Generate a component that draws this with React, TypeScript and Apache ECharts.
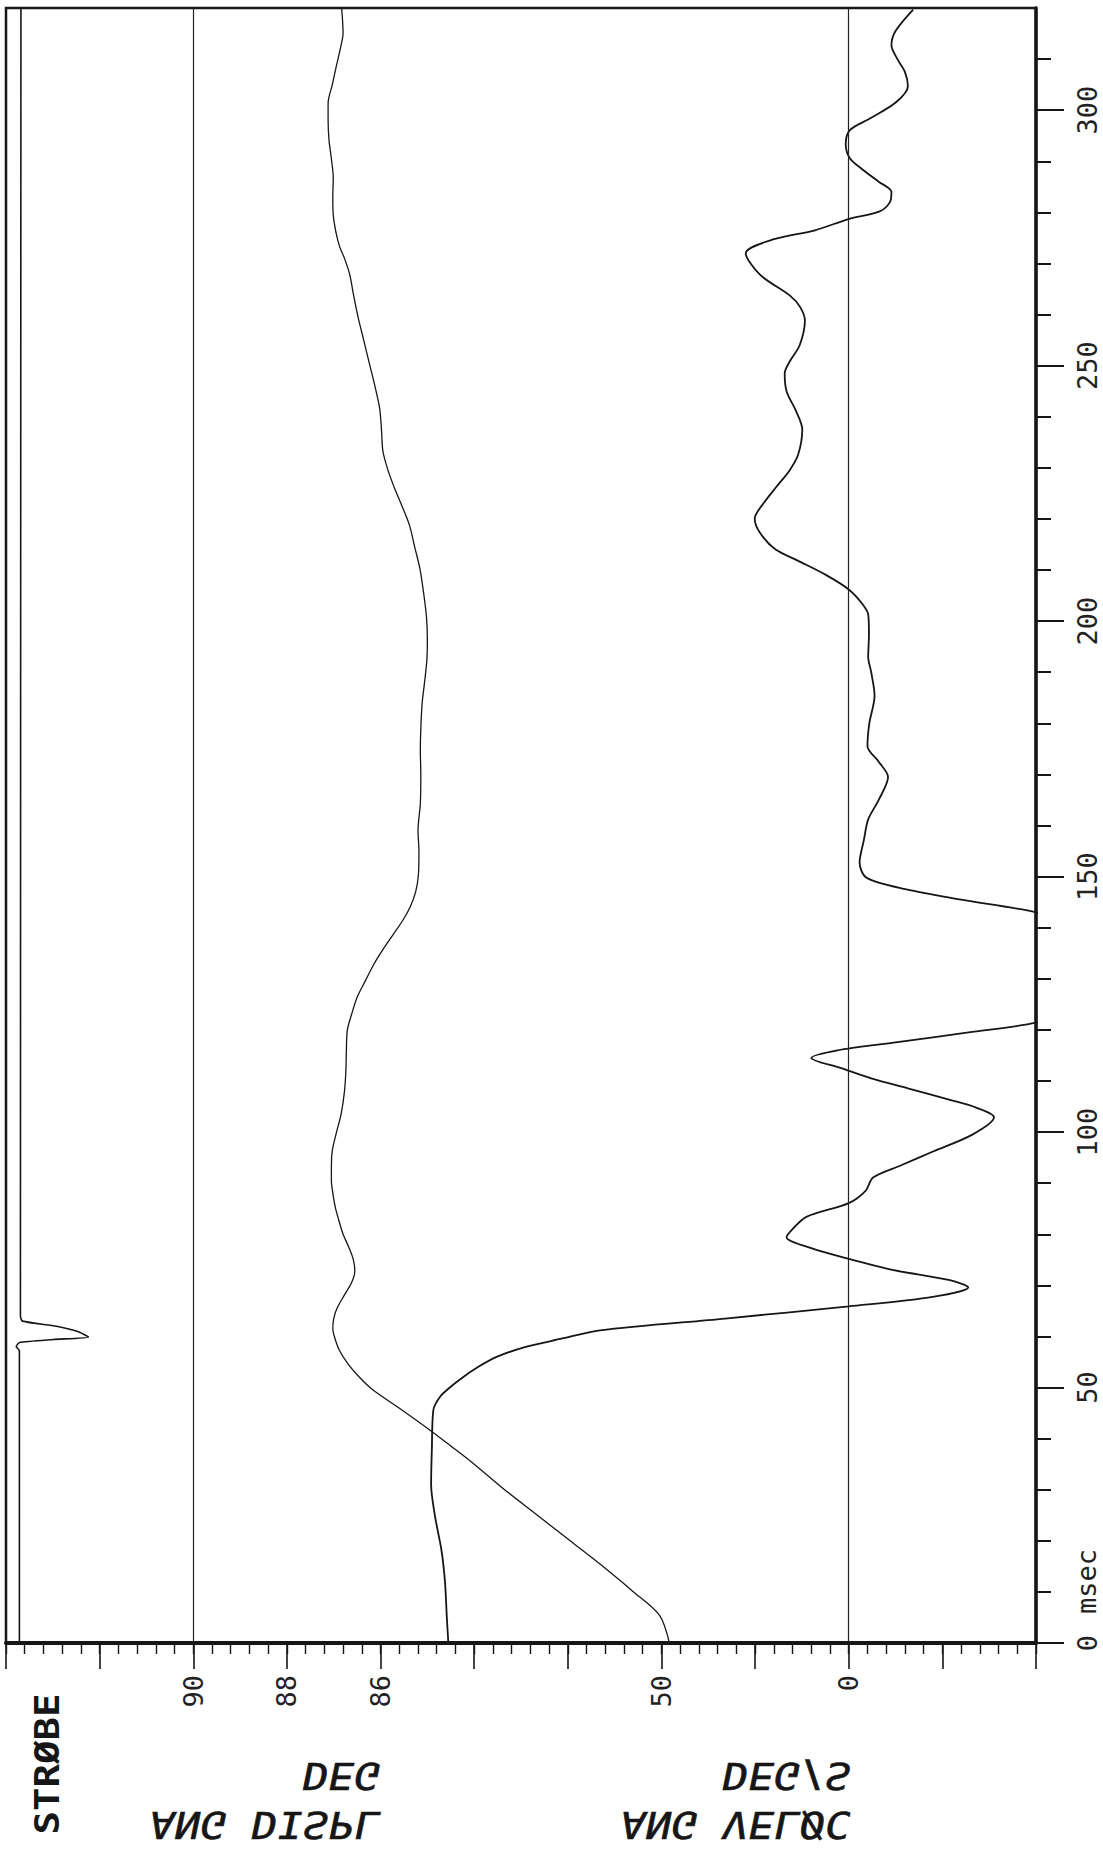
import React, { useEffect, useRef } from "react";
import * as echarts from "echarts";

// ---- tick labels ----
const timeMajorTicks = [0, 50, 100, 150, 200, 250, 300];
const displTickLabels = [90, 88, 86];
const velocTickLabels = [50, 0];

// ---- angular displacement (deg) vs time (msec) ----
const displTime = [0, 5.4, 10.1, 15.5, 20, 25, 30, 35, 38.7, 41.7, 45.9, 49.5, 52, 54.7, 57.3, 59.5, 61.5, 63.5, 65.5, 68, 70.5, 72.7, 75, 77.5, 80, 82.7, 85, 87.5, 90.5, 93.5, 96.4, 100, 103.6, 108, 112.1, 116, 119.9, 123, 126.4, 129.5, 132.9, 136, 138.8, 141.5, 144, 147, 150.5, 155, 159, 164.3, 170, 174.7, 179, 184.1, 188, 192.5, 196.5, 200.9, 205.5, 210.3, 214.5, 218.7, 222.5, 226, 229.5, 233.3, 237.5, 241.7, 246, 250.1, 255, 259.5, 264, 267.9, 271, 273.2, 276, 279.5, 283, 286.8, 290.5, 294.1, 298, 301.4, 305, 308.8, 312, 315.1, 319.8];
const displValue = [79.83, 80.04, 80.61, 81.32, 81.95, 82.65, 83.35, 84.0, 84.52, 84.95, 85.59, 86.16, 86.45, 86.7, 86.88, 86.97, 87.02, 87.0, 86.93, 86.78, 86.62, 86.55, 86.58, 86.68, 86.8, 86.89, 86.96, 87.01, 87.05, 87.05, 87.03, 86.94, 86.84, 86.77, 86.74, 86.73, 86.71, 86.62, 86.5, 86.33, 86.14, 85.93, 85.72, 85.52, 85.37, 85.25, 85.19, 85.18, 85.2, 85.15, 85.14, 85.15, 85.14, 85.11, 85.06, 85.01, 85.0, 85.02, 85.08, 85.16, 85.27, 85.38, 85.54, 85.7, 85.84, 85.95, 85.98, 86.02, 86.12, 86.23, 86.36, 86.48, 86.58, 86.66, 86.77, 86.87, 86.95, 87.01, 87.02, 87.01, 87.05, 87.1, 87.12, 87.12, 87.03, 86.94, 86.86, 86.8, 86.83];

// ---- angular velocity (deg/s) vs time (msec) ----
const velocTime = [0, 5, 12, 18, 25, 31, 38, 45.6, 48.2, 50, 52, 54, 56, 58, 59.5, 61.2, 63.5, 65.9, 67.7, 69.6, 71, 73, 75.2, 77.3, 79.4, 81, 83.4, 86.1, 88.5, 91.1, 93.5, 96.2, 99.5, 102.9, 104.8, 106.3, 108.5, 110.5, 112.5, 114.5, 116, 117.5, 119.5, 121.4, 127, 132, 137, 143, 145.5, 147.5, 149.8, 152.8, 157, 161.2, 165, 169.5, 172.5, 175.5, 180, 185.4, 190, 193, 197.5, 201.3, 203.5, 206.2, 209, 211.8, 214, 217.3, 220.1, 223, 226.3, 229.5, 232.6, 237.5, 241, 245, 248.5, 251, 254, 258.8, 261.5, 263.7, 267.8, 272, 274.7, 276.5, 278.7, 280.2, 282, 284, 286, 288.5, 290.6, 293.3, 296.1, 298.5, 301.6, 304.7, 307.5, 310, 312.7, 315.5, 319.7];
const velocValue = [106.9, 107.3, 107.8, 108.7, 110.5, 111.5, 111.3, 110.9, 109.1, 106.5, 103, 99, 94, 86, 77, 66.4, 33, 0, -22, -31.9, -27, -12, 0, 10, 16.6, 15, 11.3, 0, -4.5, -6.5, -14, -22.5, -33, -38.8, -34, -27, -16, -6, 2, 10, 3, -12, -32, -50, -80, -90, -80, -50, -30, -15.4, -4.7, -2.9, -4, -5.2, -8, -10.5, -8, -5.0, -5.5, -6.9, -6, -5.2, -5.4, -5.2, -3.5, 0, 6, 13.5, 19.5, 23.7, 25.1, 22.8, 19.3, 15.8, 13.5, 12.4, 14, 16.6, 17.1, 15.6, 13.1, 11.7, 13, 15.7, 23.7, 27.5, 20.2, 9, 0, -8.3, -11, -11.4, -8, -3.5, -0.3, 0.8, -0.3, -6, -12.7, -15.8, -15, -13, -11.4, -12.5, -17.2];

// ---- strobe channel (relative units 0..100) vs time (msec) ----
const strobeTime = [0, 57.2, 58.0, 58.8, 59.4, 59.9, 61.0, 62.0, 63.0, 64.0, 320];
const strobeValue = [1.3, 1.3, 1.0, 1.3, 4.6, 8.0, 6.9, 4.9, 1.6, 1.4, 1.45];

const FONT = "'DejaVu Sans Mono', 'Liberation Mono', monospace";
const INK = "#161616";

export default function App() {
  const ref = useRef<HTMLDivElement>(null);

  useEffect(() => {
    if (!ref.current) return;
    const chart = echarts.init(ref.current, null, { renderer: "svg" });

    const L = 6, R = 1036, T = 8, B = 1643;
    const TMAX = 320;
    const pxPerMs = (B - T) / TMAX;
    const rect = (tmax: number) => ({
      left: L,
      width: R - L,
      top: B - tmax * pxPerMs,
      height: tmax * pxPerMs,
      containLabel: false,
      outerBoundsMode: "none",
    });

    const labelStyle = { fontFamily: FONT, fontSize: 27, color: "#222" };
    const titleStyle = (text: string) => ({
      text, fontFamily: FONT, fontSize: 37, fontWeight: "normal", fill: INK,
      stroke: INK, lineWidth: 0.6, align: "right", verticalAlign: "middle",
    });

    const option: any = {
      animation: false,
      backgroundColor: "#ffffff",
      grid: [
        { ...rect(TMAX), show: true, borderColor: INK, borderWidth: 2.5, backgroundColor: "transparent" },
        rect(TMAX),
        rect(TMAX),
        rect(TMAX),
        rect(300),
        rect(310),
      ],
      xAxis: [
        {
          gridIndex: 0, type: "value", min: 72, max: 94, interval: 2, inverse: true, position: "bottom",
          axisLine: { show: false, onZero: false }, axisTick: { show: false }, splitLine: { show: false },
          axisLabel: {
            ...labelStyle, rotate: 90, margin: 32,
            formatter: (v: number) => (displTickLabels.includes(v) ? String(v) : ""),
          },
        },
        {
          gridIndex: 1, type: "value", min: -50, max: 225, interval: 25, inverse: true, position: "bottom",
          axisLine: { show: true, onZero: false, lineStyle: { color: INK, width: 4 } },
          axisTick: { show: true, inside: false, length: 26, lineStyle: { color: INK, width: 1.6 } },
          splitLine: { show: false },
          axisLabel: {
            ...labelStyle, rotate: 90, margin: 32,
            formatter: (v: number) => (velocTickLabels.includes(v) ? String(v) : ""),
          },
        },
        {
          gridIndex: 2, type: "value", min: -50, max: 225, interval: 5, inverse: true, position: "bottom",
          axisLine: { show: false, onZero: false },
          axisTick: { show: true, inside: false, length: 11, lineStyle: { color: INK, width: 1.4 } },
          axisLabel: { show: false }, splitLine: { show: false },
        },
        { gridIndex: 3, type: "value", min: 0, max: 100, show: false },
        { gridIndex: 4, type: "value", min: 0, max: 1, show: false },
        { gridIndex: 5, type: "value", min: 0, max: 1, show: false },
      ],
      yAxis: [
        {
          gridIndex: 0, type: "value", min: 0, max: TMAX, position: "right",
          axisLine: { show: true, onZero: false, lineStyle: { color: INK, width: 3.5 } },
          axisTick: { show: false }, axisLabel: { show: false }, splitLine: { show: false },
        },
        { gridIndex: 1, type: "value", min: 0, max: TMAX, show: false },
        { gridIndex: 2, type: "value", min: 0, max: TMAX, show: false },
        { gridIndex: 3, type: "value", min: 0, max: TMAX, show: false },
        {
          gridIndex: 4, type: "value", min: 0, max: 300, interval: 50, position: "right",
          axisLine: { show: false, onZero: false },
          axisTick: { show: true, inside: false, length: 28, lineStyle: { color: INK, width: 2 } },
          splitLine: { show: false },
          axisLabel: {
            ...labelStyle, rotate: 90, margin: 38,
            formatter: (v: number) => (timeMajorTicks.includes(v) ? String(v) : ""),
          },
        },
        {
          gridIndex: 5, type: "value", min: 0, max: 310, interval: 10, position: "right",
          axisLine: { show: false, onZero: false },
          axisTick: { show: true, inside: false, length: 15, lineStyle: { color: INK, width: 2 } },
          axisLabel: { show: false }, splitLine: { show: false },
        },
      ],
      series: [
        {
          name: "ANG DISPL", type: "line", xAxisIndex: 0, yAxisIndex: 0,
          data: displTime.map((t, i) => [displValue[i], t]),
          showSymbol: false, symbol: "none", smooth: 0.3,
          lineStyle: { color: INK, width: 1.3 },
          markLine: {
            silent: true, symbol: ["none", "none"], label: { show: false },
            lineStyle: { color: "#222", width: 1.2, type: "solid" },
            data: [{ xAxis: 90 }],
          },
        },
        {
          name: "ANG VELOC", type: "line", xAxisIndex: 1, yAxisIndex: 1,
          data: velocTime.map((t, i) => [velocValue[i], t]),
          showSymbol: false, symbol: "none", smooth: 0.3,
          lineStyle: { color: INK, width: 1.8 },
          markLine: {
            silent: true, symbol: ["none", "none"], label: { show: false },
            lineStyle: { color: "#222", width: 1.2, type: "solid" },
            data: [{ xAxis: 0 }],
          },
        },
        {
          name: "STROBE", type: "line", xAxisIndex: 3, yAxisIndex: 3,
          data: strobeTime.map((t, i) => [strobeValue[i], t]),
          showSymbol: false, symbol: "none", smooth: 0.2,
          lineStyle: { color: INK, width: 1.6 },
        },
      ],
      graphic: [
        {
          type: "text", x: 1086, y: 1614, rotation: Math.PI / 2,
          style: { text: "msec", fontFamily: FONT, fontSize: 27, fill: "#222", align: "left", verticalAlign: "middle" },
        },
        {
          type: "text", x: 47, y: 1764, rotation: Math.PI / 2, scaleX: 1.15,
          style: { text: "STRØBE", fontFamily: FONT, fontSize: 34, fontWeight: "bold", fill: INK, align: "center", verticalAlign: "middle" },
        },
        { type: "text", x: 380, y: 1776, scaleX: 1.15, scaleY: -1, skewX: -0.2, style: titleStyle("DEG") },
        { type: "text", x: 380, y: 1825, scaleX: 1.15, scaleY: -1, skewX: -0.2, style: titleStyle("ANG DISPL") },
        { type: "text", x: 851, y: 1776, scaleX: 1.15, scaleY: -1, skewX: -0.2, style: titleStyle("DEG/S") },
        { type: "text", x: 851, y: 1825, scaleX: 1.15, scaleY: -1, skewX: -0.2, style: titleStyle("ANG VELØC") },
      ],
    };

    chart.setOption(option);
    return () => chart.dispose();
  }, []);

  return (
    <div
      ref={ref}
      style={{ position: "absolute", left: 0, top: 0, width: 1103, height: 1854, background: "#fff" }}
    />
  );
}
